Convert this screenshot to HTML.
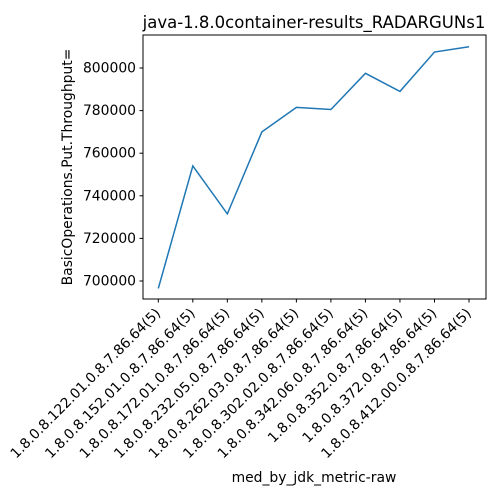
<!DOCTYPE html>
<html><head><meta charset="utf-8"><style>body{margin:0;background:#fff}svg{display:block;font-family:"DejaVu Sans","Liberation Sans",sans-serif}</style></head>
<body>
<svg id="chart" width="500" height="500"></svg>
<script>
const categories=["1.8.0.8.122.01.0.8.7.86.64(5)","1.8.0.8.152.01.0.8.7.86.64(5)","1.8.0.8.172.01.0.8.7.86.64(5)","1.8.0.8.232.05.0.8.7.86.64(5)","1.8.0.8.262.03.0.8.7.86.64(5)","1.8.0.8.302.02.0.8.7.86.64(5)","1.8.0.8.342.06.0.8.7.86.64(5)","1.8.0.8.352.0.8.7.86.64(5)","1.8.0.8.372.0.8.7.86.64(5)","1.8.0.8.412.00.0.8.7.86.64(5)"];
const values=[696500,754000,731500,770000,781500,780500,797500,789000,807500,810000];
const yTicks=[700000,720000,740000,760000,780000,800000];
const NS="http://www.w3.org/2000/svg";
const svg=document.getElementById('chart');
const L=143,R=486,T=35,B=299;
function xs(i){return 158.3+i*(469-158.3)/(categories.length-1);}
function ys(v){return 281-(v-700000)*(42.6/20000);}
function mk(tag,attrs,parent){const e=document.createElementNS(NS,tag);for(const k in attrs)e.setAttribute(k,attrs[k]);(parent||svg).appendChild(e);return e;}
const frame=mk('rect',{x:L,y:T,width:R-L,height:B-T,fill:'none',stroke:'#000','stroke-width':1});


yTicks.forEach(v=>{const y=ys(v);
const t=mk('line',{x1:L-3.5,x2:L,y1:y,y2:y,stroke:'#000'});


const tx=mk('text',{x:L-7,y:y+4.5,'text-anchor':'end','font-size':'13.9px'});tx.textContent=v;

});
categories.forEach((c,i)=>{const x=xs(i);
const t=mk('line',{x1:x,x2:x,y1:B,y2:B+3.5,stroke:'#000'});


const tx=mk('text',{x:x+3,y:B+15,'text-anchor':'end','font-size':'13.9px',transform:`rotate(-45 ${x+3} ${B+15})`});tx.textContent=c;

});
const line=mk('polyline',{points:values.map((v,i)=>xs(i)+','+ys(v)).join(' '),fill:'none',stroke:'#1f77b4','stroke-width':1.5});


const title=mk('text',{x:314,y:28,'text-anchor':'middle','font-size':'16.5px'});title.textContent='java-1.8.0container-results_RADARGUNs1';


const xt=mk('text',{x:314,y:482,'text-anchor':'middle','font-size':'13.9px'});xt.textContent='med_by_jdk_metric-raw';


const yt=mk('text',{x:72,y:167,'text-anchor':'middle','font-size':'13.9px',transform:'rotate(-90 72 167)'});yt.textContent='BasicOperations.Put.Throughput=';


</script>
</body></html>
